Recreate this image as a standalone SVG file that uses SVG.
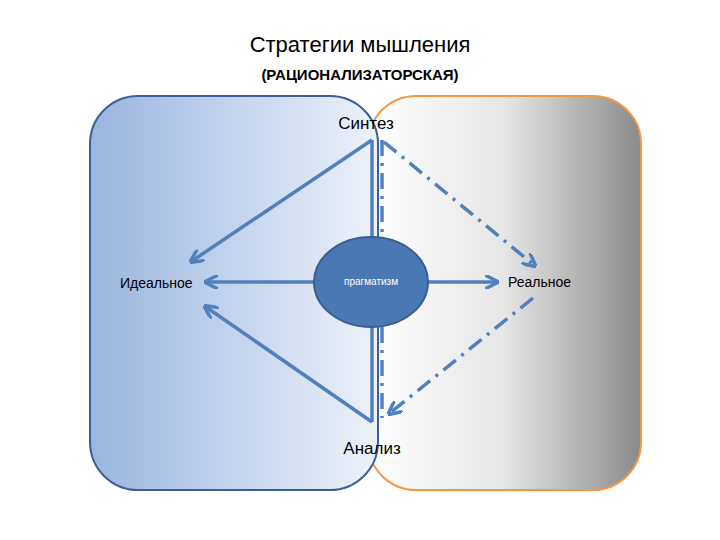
<svg xmlns="http://www.w3.org/2000/svg" width="720" height="540" viewBox="0 0 720 540">
<style>
.t{font-family:"Liberation Sans",Arial,sans-serif;fill:#000}
.s{stroke:#4f81bd;stroke-width:3.5;fill:none}
.d{stroke:#4f81bd;stroke-width:3.5;fill:none;stroke-dasharray:16 7 3 7}
</style>
<defs>
<linearGradient id="gb" x1="0" x2="1" y1="0" y2="0"><stop offset="0" stop-color="#9ab5e0"/><stop offset="1" stop-color="#eef2fa"/></linearGradient>
<linearGradient id="gg" x1="0" x2="1" y1="0" y2="0"><stop offset="0" stop-color="#ffffff"/><stop offset="0.5" stop-color="#e6e6e6"/><stop offset="1" stop-color="#8a8a8a"/></linearGradient>
<marker id="a" viewBox="0 0 10 10" refX="8" refY="5" markerWidth="4" markerHeight="4" orient="auto" markerUnits="strokeWidth"><path d="M0,0 L10,5 L0,10" fill="none" stroke="#4f81bd" stroke-width="2.5"/></marker>
</defs>
<g id="title">
<text class="t" x="360" y="52" text-anchor="middle" font-size="22">Стратегии мышления</text>
<text class="t" x="360" y="80" text-anchor="middle" font-size="15" font-weight="bold">(РАЦИОНАЛИЗАТОРСКАЯ)</text>
</g>
<g id="real-zone"><rect x="368" y="96" width="273" height="394" rx="48" fill="url(#gg)" stroke="#f79646" stroke-width="2"/></g>
<g id="ideal-zone"><rect x="90" y="96" width="288" height="394" rx="48" fill="url(#gb)" stroke="#3a5f9a" stroke-width="2"/></g>
<g id="connectors">
<line class="s" x1="372" y1="140" x2="192" y2="261" marker-end="url(#a)"/>
<line class="s" x1="372" y1="140" x2="372" y2="237"/>
<line class="d" x1="382" y1="140" x2="382" y2="237"/>
<line class="d" x1="384" y1="142" x2="534" y2="265" marker-end="url(#a)"/>
<line class="s" x1="314" y1="282" x2="207" y2="282" marker-end="url(#a)"/>
<line class="s" x1="428" y1="282" x2="496" y2="282" marker-end="url(#a)"/>
<line class="s" x1="372" y1="327" x2="372" y2="422"/>
<line class="s" x1="372" y1="422" x2="206" y2="307" marker-end="url(#a)"/>
<line class="d" x1="382" y1="327" x2="382" y2="418"/>
<line class="d" x1="533" y1="298" x2="390" y2="413" marker-end="url(#a)"/>
</g>
<g id="pragmatism">
<ellipse cx="371" cy="282" rx="57" ry="45" fill="#4a78b5" stroke="#3a5f8f" stroke-width="2"/>
<text x="371" y="285" text-anchor="middle" font-size="10" font-family="Liberation Sans,Arial,sans-serif" fill="#fff">прагматизм</text>
</g>
<g id="synthesis"><text class="t" x="366" y="129" text-anchor="middle" font-size="17">Синтез</text></g>
<g id="analysis"><text class="t" x="372" y="454" text-anchor="middle" font-size="17">Анализ</text></g>
<g id="ideal"><text class="t" x="120" y="288" font-size="14">Идеальное</text></g>
<g id="real"><text class="t" x="508" y="287" font-size="14">Реальное</text></g>
</svg>
